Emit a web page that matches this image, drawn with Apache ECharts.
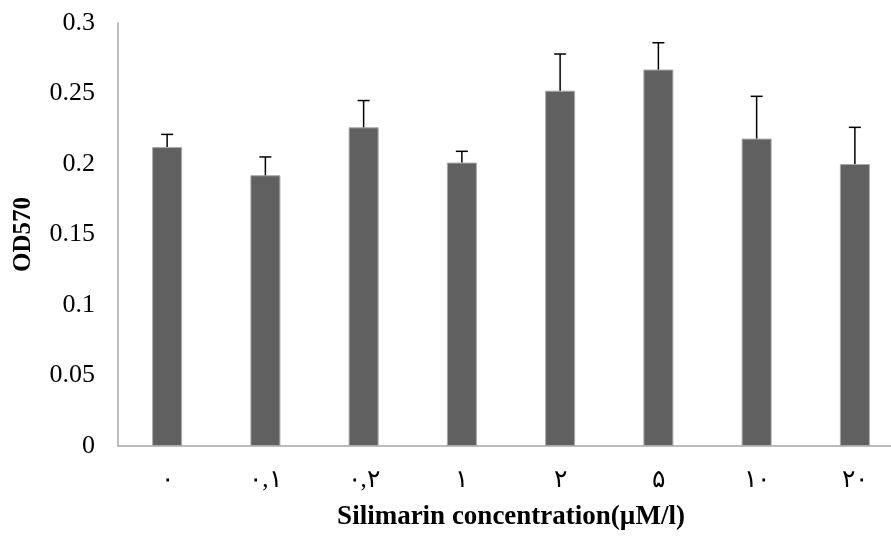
<!DOCTYPE html>
<html>
<head>
<meta charset="utf-8">
<script src="https://cdn.jsdelivr.net/npm/echarts@6/dist/echarts.min.js"></script>
<style>
  html, body { margin: 0; padding: 0; background: #fff; overflow: hidden; }
  /* the original figure is cropped on the right, so the chart is a bit wider than the window */
  #chart { width: 904px; height: 536px; }
</style>
</head>
<body>
<div id="chart"></div>
<script>
// concentrations, written in Persian digits as in the original figure
const categories = ['۰', '۰,۱', '۰,۲', '۱', '۲', '۵', '۱۰', '۲۰'];
// mean OD570
const means = [0.212, 0.192, 0.226, 0.201, 0.252, 0.267, 0.218, 0.200];
// upper end of each error bar
const errTops = [0.221, 0.205, 0.245, 0.209, 0.278, 0.286, 0.248, 0.226];
const yTicks = { min: 0, max: 0.3, interval: 0.05 };

const serif = "'Liberation Serif', 'Times New Roman', 'DejaVu Serif', serif";

const chart = echarts.init(document.getElementById('chart'));

const option = {
  animation: false,
  backgroundColor: '#fff',
  grid: { left: 118, top: 23, right: 0, bottom: 86 },
  xAxis: {
    type: 'category',
    data: categories,
    name: 'Silimarin concentration(µM/l)',
    nameLocation: 'middle',
    nameGap: 58,
    nameTextStyle: { fontFamily: serif, fontWeight: 'bold', fontSize: 27, color: '#000' },
    axisLine: { lineStyle: { color: '#a6a6a6', width: 1.5 } },
    axisTick: { show: false },
    axisLabel: { fontFamily: serif, fontSize: 25, color: '#000', margin: 22 }
  },
  yAxis: {
    type: 'value',
    min: yTicks.min,
    max: yTicks.max,
    interval: yTicks.interval,
    name: 'OD570',
    nameLocation: 'middle',
    nameRotate: 90,
    nameGap: 82,
    nameTextStyle: { fontFamily: serif, fontWeight: 'bold', fontSize: 25, color: '#000' },
    axisLine: { show: true, lineStyle: { color: '#a6a6a6', width: 1.5 } },
    axisTick: { show: false },
    splitLine: { show: false },
    axisLabel: { fontFamily: serif, fontSize: 26, color: '#000', margin: 23 }
  },
  series: [
    {
      type: 'bar',
      data: means,
      barWidth: 30,
      itemStyle: { color: '#606060', borderColor: '#a8a8a8', borderWidth: 1 },
      z: 2
    },
    {
      type: 'custom',
      data: means.map((m, i) => [i, m, errTops[i]]),
      z: 3,
      renderItem: (params, api) => {
        const i = api.value(0);
        const base = api.coord([i, api.value(1)]);
        const top = api.coord([i, api.value(2)]);
        const half = 6;
        const style = { stroke: '#000', lineWidth: 1.5 };
        return {
          type: 'group',
          children: [
            { type: 'line', shape: { x1: base[0], y1: base[1], x2: top[0], y2: top[1] }, style },
            { type: 'line', shape: { x1: top[0] - half, y1: top[1], x2: top[0] + half, y2: top[1] }, style }
          ]
        };
      }
    }
  ]
};

chart.setOption(option);
window.addEventListener('resize', () => chart.resize());
</script>
</body>
</html>
